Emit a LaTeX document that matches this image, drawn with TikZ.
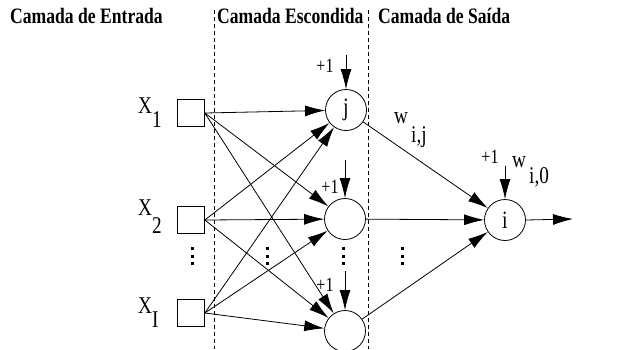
\documentclass[tikz,border=0pt]{standalone}
\usepackage{fontspec}
\setmainfont{Liberation Serif}
\newfontfamily\condfont[FakeStretch=0.8]{Liberation Serif}
\usetikzlibrary{arrows.meta}
\begin{document}
\begin{tikzpicture}[x=1pt,y=-1pt,
 inbox/.style={draw, rectangle, minimum size=27pt, inner sep=0pt, line width=0.7pt},
 neuron/.style={draw, circle, minimum size=41pt, inner sep=0pt, line width=0.8pt, font=\condfont\fontsize{25}{25}\selectfont},
 title/.style={font=\condfont\bfseries\fontsize{22}{22}\selectfont, anchor=base west, inner sep=0pt},
 lbl/.style={font=\condfont\fontsize{24}{24}\selectfont, inner sep=0pt, anchor=base west},
 bias/.style={font=\condfont\fontsize{20}{20}\selectfont, inner sep=0pt},
 conn/.style={-{Latex[length=20pt,width=11pt]}, line width=0.8pt},
 sep/.style={line width=0.7pt, dash pattern=on 4pt off 3pt},
 dot/.style={rectangle, fill, inner sep=0pt, minimum size=3pt}
]
\useasboundingbox (0,0) rectangle (620,349);
\fill[white] (0,0) rectangle (620,349);

% titles
\node[title] (t1) at (10,23) {Camada de Entrada};
\node[title] (t2) at (217,23) {Camada Escondida};
\node[title] (t3) at (378,23) {Camada de Saída};

% separators
\coordinate (s1a) at (214,10); \coordinate (s1b) at (214,349);
\coordinate (s2a) at (368,10); \coordinate (s2b) at (368,349);
\draw[sep] (s1a) -- (s1b);
\draw[sep] (s2a) -- (s2b);

% inputs
\node[inbox] (x1) at (191,113) {};
\node[inbox] (x2) at (191,220) {};
\node[inbox] (xI) at (191,313) {};
\node[lbl] (lx1) at (138,113) {X};
\node[lbl] (lx1s) at (152,127) {1};
\node[lbl] (lx2) at (138,215) {X};
\node[lbl] (lx2s) at (152,233) {2};
\node[lbl] (lxI) at (138,313) {X};
\node[lbl] (lxIs) at (152,327) {I};

% hidden
\node[neuron] (h1) at (346,110) {j};
\node[neuron] (h2) at (345,219) {};
\node[neuron] (h3) at (345,331) {};

% output
\node[neuron] (o) at (505,220) {i};
\coordinate (oend) at (573,219);

% input -> hidden
\foreach \s in {x1,x2,xI}{
  \foreach \t in {h1,h2,h3}{
    \draw[conn] (\s.east) -- (\t);
  }
}
% hidden -> output
\foreach \s in {h1,h2,h3}{
  \draw[conn] (\s) -- (o);
}
\draw[conn] (o.east) -- (oend);

% biases
\coordinate (b1) at (346,55);
\coordinate (b2) at (345,160);
\coordinate (b3) at (345,271);
\coordinate (b4) at (505,166);
\draw[conn] (b1) -- (h1.north);
\draw[conn] (b2) -- (h2.north);
\draw[conn] (b3) -- (h3.north);
\draw[conn] (b4) -- (o.north);
\node[bias] (p1) at (325,66) {+1};
\node[bias] (p2) at (330,187) {+1};
\node[bias] (p3) at (325,285) {+1};
\node[bias] (p4) at (490,157) {+1};

% weights
\node[lbl] (w1) at (394,123) {w};
\node[lbl] (w1s) at (411,142) {i,j};
\node[lbl] (w2) at (512,167) {w};
\node[lbl] (w2s) at (529,183) {i,0};

% dots
\foreach \xx in {192,267,343,402}{
  \foreach \yy in {248,256,263}{
    \node[dot] at (\xx,\yy) {};
  }
}
\end{tikzpicture}
\end{document}
